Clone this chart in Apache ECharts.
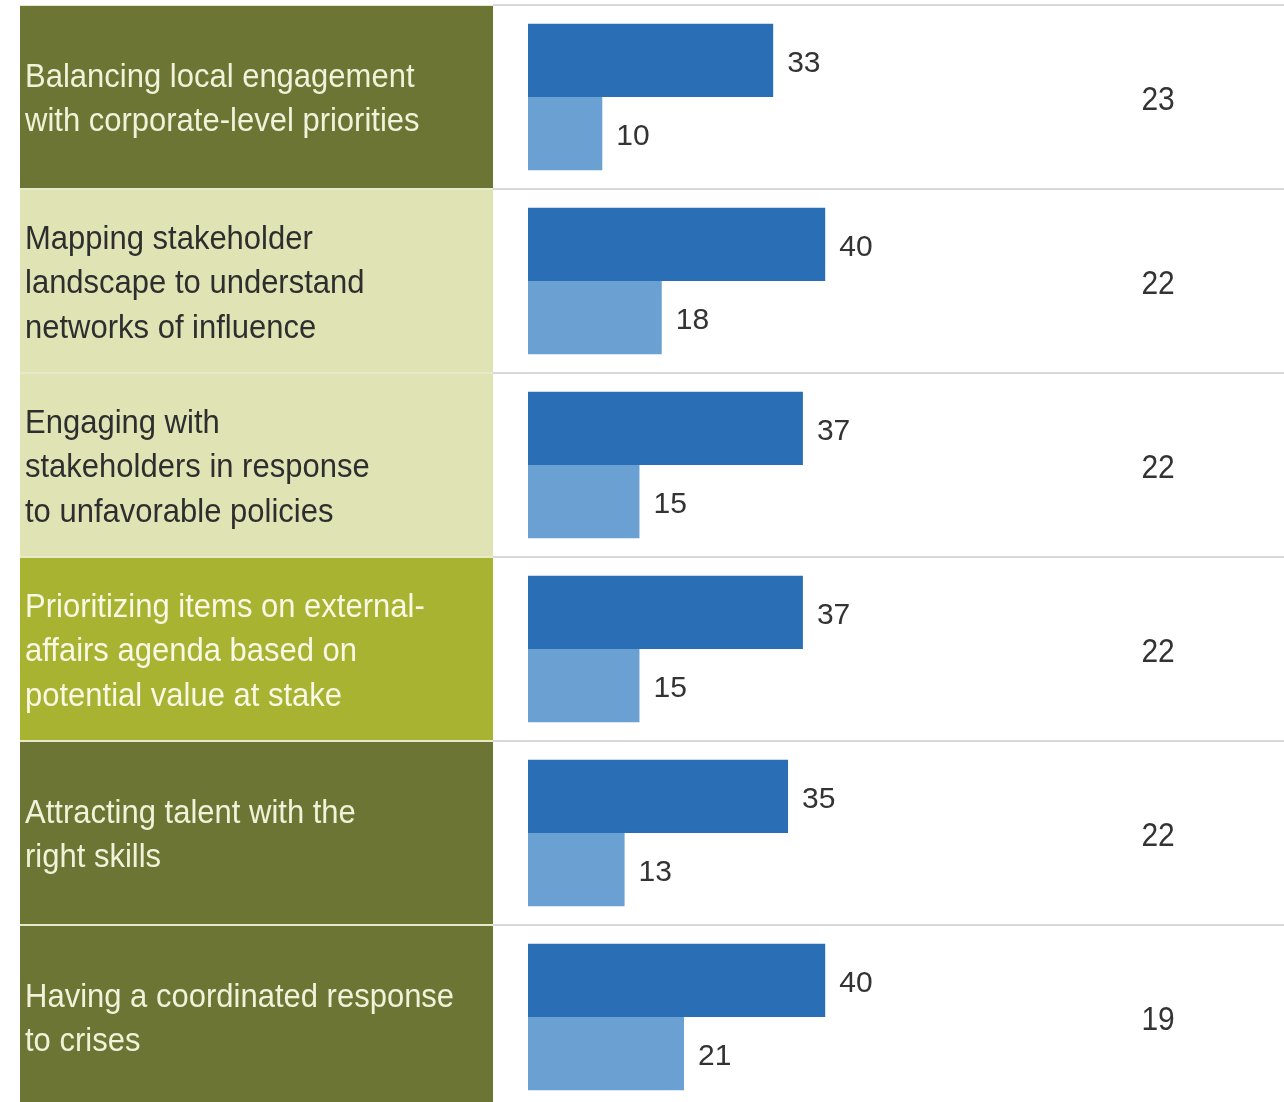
<!DOCTYPE html>
<html>
<head>
<meta charset="utf-8">
<script src="https://cdn.jsdelivr.net/npm/echarts@6/dist/echarts.min.js"></script>
<style>
  html, body { margin: 0; padding: 0; background: #ffffff; }
  #chart { width: 1284px; height: 1102px; }
</style>
</head>
<body>
<div id="chart"></div>
<script>
// Row labels, top to bottom
const categories = [
  'Balancing local engagement\nwith corporate-level priorities',
  'Mapping stakeholder\nlandscape to understand\nnetworks of influence',
  'Engaging with\nstakeholders in response\nto unfavorable policies',
  'Prioritizing items on external-\naffairs agenda based on\npotential value at stake',
  'Attracting talent with the\nright skills',
  'Having a coordinated response\nto crises'
];
// Upper (dark) bar of each pair
const primaryValues = [33, 40, 37, 37, 35, 40];
// Lower (light) bar of each pair
const secondaryValues = [10, 18, 15, 15, 13, 21];
// Right-hand figure column
const sideValues = [23, 22, 22, 22, 22, 19];

// ---- styling ----
const panelTone = ['dark', 'light', 'light', 'lime', 'dark', 'dark'];
const tones = {
  dark:  { fill: '#6c7533', text: '#f2f2da' },
  light: { fill: '#e0e4b4', text: '#2e2e2e' },
  lime:  { fill: '#a8b332', text: '#f8f8e6' }
};
const FONT = '"Liberation Sans", Arial, Helvetica, sans-serif';
const GRID_TOP = 5;
const GRID_H = 1104;
const TEXT_STRETCH = 1.08;   // slightly tall lettering

const chart = echarts.init(document.getElementById('chart'), null, { renderer: 'canvas' });

const gridBase = { top: GRID_TOP, height: GRID_H, outerBoundsMode: 'none', containLabel: false };

const barLabel = {
  show: true, position: 'right', distance: 14, offset: [0, 3],
  color: '#333333', fontSize: 30, fontFamily: FONT
};

const option = {
  animation: false,
  backgroundColor: '#ffffff',
  grid: [
    Object.assign({ left: 20, width: 473, show: true, backgroundColor: '#e7eac8', borderWidth: 0 }, gridBase),
    Object.assign({ left: 493, right: 0 }, gridBase),
    Object.assign({ left: 528, width: 743 }, gridBase)
  ],
  xAxis: [
    { gridIndex: 0, type: 'value', min: 0, max: 1, show: false },
    { gridIndex: 1, type: 'value', min: 0, max: 1, show: false },
    { gridIndex: 2, type: 'value', min: 0, max: 100, show: false }
  ],
  yAxis: [
    { gridIndex: 0, type: 'category', data: categories, inverse: true, show: false },
    {
      gridIndex: 1, type: 'category', data: categories, inverse: true,
      axisLine: { show: false }, axisTick: { show: false }, axisLabel: { show: false },
      splitLine: { show: true, lineStyle: { color: '#d9d9d9', width: 2 } }
    },
    { gridIndex: 2, type: 'category', data: categories, inverse: true, show: false }
  ],
  series: [
    {
      // coloured label panels on the left
      type: 'custom',
      xAxisIndex: 0,
      yAxisIndex: 0,
      silent: true,
      data: categories.map((c, i) => [0, i]),
      renderItem: function (params, api) {
        const i = api.value(1);
        const cs = params.coordSys;
        const bandH = api.size([0, 1])[1];
        const yc = api.coord([0, i])[1];
        const tone = tones[panelTone[i]];
        return {
          type: 'group',
          children: [
            {
              type: 'rect',
              shape: { x: cs.x, y: yc - bandH / 2 + 1, width: cs.width, height: bandH - 2 },
              style: { fill: tone.fill }
            },
            {
              type: 'text',
              x: cs.x + 5,
              y: yc + 3,
              scaleY: TEXT_STRETCH,
              style: {
                text: categories[i],
                fill: tone.text,
                font: '31px ' + FONT,
                lineHeight: 41,
                align: 'left',
                verticalAlign: 'middle'
              }
            }
          ]
        };
      }
    },
    {
      name: 'Primary',
      type: 'bar',
      xAxisIndex: 2,
      yAxisIndex: 2,
      data: primaryValues,
      barGap: '0%',
      barCategoryGap: '20.5%',
      itemStyle: { color: '#2a6fb6' },
      label: barLabel
    },
    {
      name: 'Secondary',
      type: 'bar',
      xAxisIndex: 2,
      yAxisIndex: 2,
      data: secondaryValues,
      barGap: '0%',
      barCategoryGap: '20.5%',
      itemStyle: { color: '#6aa1d2' },
      label: barLabel
    },
    {
      // right-hand figure column
      type: 'custom',
      xAxisIndex: 2,
      yAxisIndex: 2,
      silent: true,
      data: sideValues.map((v, i) => [v, i]),
      renderItem: function (params, api) {
        const i = api.value(1);
        const cs = params.coordSys;
        const yc = api.coord([0, i])[1];
        return {
          type: 'text',
          x: cs.x + cs.width * 0.848,
          y: yc + 4,
          scaleY: TEXT_STRETCH,
          style: {
            text: String(sideValues[i]),
            fill: '#333333',
            font: '30px ' + FONT,
            align: 'center',
            verticalAlign: 'middle'
          }
        };
      }
    }
  ]
};

chart.setOption(option);
</script>
</body>
</html>
